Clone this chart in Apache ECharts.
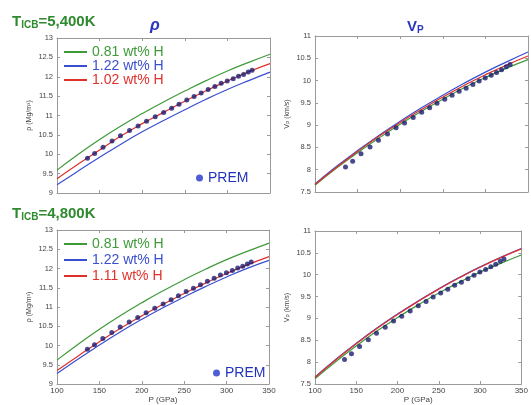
<!DOCTYPE html>
<html>
<head>
<meta charset="utf-8">
<script src="https://cdn.jsdelivr.net/npm/echarts@6/dist/echarts.min.js"></script>
<style>
html, body { margin: 0; padding: 0; background: #fff; }
#chart { width: 531px; height: 405px; }
</style>
</head>
<body>
<div id="chart"></div>
<script>
// pressure grid of the model curves (GPa)
const pGrid = [100, 125, 150, 175, 200, 225, 250, 275, 300, 325, 350];

// density (Mg/m3), T_ICB = 5,400K
const rhoGreenHot = [9.59, 10.00, 10.38, 10.73, 11.05, 11.35, 11.63, 11.90, 12.15, 12.37, 12.58];
const rhoBlueHot  = [9.21, 9.57, 9.92, 10.26, 10.58, 10.87, 11.15, 11.42, 11.67, 11.90, 12.12];
const rhoRedHot   = [9.37, 9.75, 10.11, 10.47, 10.79, 11.08, 11.37, 11.64, 11.89, 12.13, 12.34];

// Vp (km/s), T_ICB = 5,400K
const vpGreenHot = [7.65, 8.03, 8.38, 8.71, 9.02, 9.31, 9.58, 9.84, 10.07, 10.28, 10.47];
const vpBlueHot  = [7.68, 8.07, 8.43, 8.77, 9.09, 9.39, 9.67, 9.94, 10.19, 10.42, 10.64];
const vpRedHot   = [7.67, 8.05, 8.41, 8.75, 9.06, 9.35, 9.63, 9.89, 10.13, 10.35, 10.55];

// density (Mg/m3), T_ICB = 4,800K
const rhoGreenCold = [9.62, 10.03, 10.42, 10.78, 11.11, 11.42, 11.71, 11.98, 12.23, 12.45, 12.66];
const rhoBlueCold  = [9.27, 9.65, 10.01, 10.36, 10.68, 10.98, 11.26, 11.53, 11.78, 12.01, 12.21];
const rhoRedCold   = [9.35, 9.73, 10.10, 10.45, 10.77, 11.07, 11.35, 11.62, 11.87, 12.10, 12.31];

// Vp (km/s), T_ICB = 4,800K
const vpGreenCold = [7.62, 8.01, 8.37, 8.71, 9.02, 9.31, 9.58, 9.83, 10.06, 10.26, 10.45];
const vpBlueCold  = [7.66, 8.06, 8.43, 8.78, 9.10, 9.40, 9.68, 9.94, 10.18, 10.40, 10.60];
const vpRedCold   = [7.65, 8.05, 8.42, 8.77, 9.09, 9.39, 9.67, 9.93, 10.17, 10.39, 10.59];

// PREM outer core
const premP   = [135.8, 144.2, 154.0, 164.6, 174.5, 185.1, 195.2, 205.1, 215.3, 225.2, 234.6, 243.2,
                 252.3, 260.9, 269.2, 277.4, 285.3, 292.7, 299.8, 306.8, 313.1, 319.0, 324.5, 329.0];
const premRho = [9.90, 10.02, 10.18, 10.34, 10.48, 10.61, 10.73, 10.85, 10.97, 11.08, 11.19, 11.29,
                 11.40, 11.49, 11.58, 11.67, 11.75, 11.83, 11.89, 11.95, 12.01, 12.06, 12.12, 12.17];
const premVp  = [8.06, 8.19, 8.36, 8.51, 8.66, 8.80, 8.94, 9.05, 9.17, 9.29, 9.39, 9.49,
                 9.58, 9.67, 9.76, 9.83, 9.91, 9.99, 10.06, 10.12, 10.18, 10.24, 10.31, 10.36];

const GREEN = '#3f9a3a';
const BLUE = '#3a4fd0';
const RED = '#e0302c';
const DOT = '#1c1c70';
const AXIS = '#9a9a9a';
const LABEL = '#444';

const pairs = (xs, ys) => xs.map((x, i) => [x, ys[i]]);

function xAxis(grid, bottomLabels) {
    return {
        type: 'value', gridIndex: grid, min: 100, max: 350, interval: 50,
        axisLine: { lineStyle: { color: AXIS } },
        axisTick: { inside: true, length: 3, lineStyle: { color: AXIS } },
        splitLine: { show: false },
        axisLabel: { show: bottomLabels, fontSize: 8, color: LABEL, margin: 3 },
        name: bottomLabels ? 'P (GPa)' : '',
        nameLocation: 'middle', nameGap: 12,
        nameTextStyle: { fontSize: 8, color: LABEL }
    };
}
function xAxisTop(grid) {
    return {
        type: 'value', gridIndex: grid, position: 'top', min: 100, max: 350, interval: 50,
        axisLine: { lineStyle: { color: AXIS } },
        axisTick: { inside: true, length: 3, lineStyle: { color: AXIS } },
        splitLine: { show: false }, axisLabel: { show: false }
    };
}
function yAxis(grid, min, max, name, gap) {
    return {
        type: 'value', gridIndex: grid, min: min, max: max, interval: 0.5,
        axisLine: { show: true, lineStyle: { color: AXIS } },
        axisTick: { show: true, inside: true, length: 3, lineStyle: { color: AXIS } },
        splitLine: { show: false },
        axisLabel: { fontSize: 7.5, color: LABEL, margin: 4 },
        name: name, nameLocation: 'middle', nameGap: gap,
        nameTextStyle: { fontSize: 7, color: LABEL, rich: { s: { fontSize: 5, color: LABEL, verticalAlign: 'bottom' } } }
    };
}
function yAxisRight(grid, min, max) {
    return {
        type: 'value', gridIndex: grid, position: 'right', min: min, max: max, interval: 0.5,
        axisLine: { show: true, lineStyle: { color: AXIS } },
        axisTick: { show: true, inside: true, length: 3, lineStyle: { color: AXIS } },
        splitLine: { show: false }, axisLabel: { show: false }
    };
}

function line(name, color, grid, ys) {
    return {
        name: name, type: 'line', xAxisIndex: grid, yAxisIndex: grid,
        data: pairs(pGrid, ys), smooth: true, symbol: 'none',
        lineStyle: { color: color, width: 1.2 }, itemStyle: { color: color }, z: 2
    };
}
function prem(grid, ys) {
    return {
        name: 'PREM', type: 'scatter', xAxisIndex: grid, yAxisIndex: grid,
        data: pairs(premP, ys), symbolSize: 5,
        itemStyle: { color: DOT }, z: 5
    };
}

const subRich = {
    a: { fontSize: 15, fontWeight: 'bold', color: '#2f8a2f' },
    b: { fontSize: 10, fontWeight: 'bold', color: '#2f8a2f', verticalAlign: 'bottom', padding: [6, 0, 0, 0] }
};

function legendLines(top, gap, items) {
    return {
        orient: 'vertical', left: 64, top: top, padding: 0, icon: 'rect',
        itemWidth: 23, itemHeight: 2, itemGap: gap,
        textStyle: { fontSize: 14, lineHeight: 14 },
        selectedMode: false,
        data: items.map(it => ({ name: it[0], itemStyle: { color: it[1] }, textStyle: { color: it[1] } }))
    };
}
function legendPrem(left, top) {
    return {
        left: left, top: top, padding: 0, icon: 'circle', itemWidth: 7, itemHeight: 7,
        selectedMode: false,
        textStyle: { fontSize: 14, color: '#2233bb' },
        data: [{ name: 'PREM', itemStyle: { color: '#2233cc' } }]
    };
}

const chart = echarts.init(document.getElementById('chart'));
chart.setOption({
    animation: false,
    textStyle: { fontFamily: 'Liberation Sans, Arial, sans-serif' },
    title: [
        { text: '{a|T}{b|ICB}{a|=5,400K}', left: 12, top: 14, padding: 0, textStyle: { rich: subRich } },
        { text: 'ρ', left: 150, top: 18, padding: 0, textStyle: { fontSize: 16, fontStyle: 'italic', fontWeight: 'bold', color: '#2a35c0' } },
        { text: '{a|V}{b|P}', left: 407, top: 19, padding: 0, textStyle: { rich: {
            a: { fontSize: 15, fontWeight: 'bold', color: '#2a35c0' },
            b: { fontSize: 10, fontWeight: 'bold', color: '#2a35c0', verticalAlign: 'bottom', padding: [6, 0, 0, 0] } } } },
        { text: '{a|T}{b|ICB}{a|=4,800K}', left: 12, top: 206, padding: 0, textStyle: { rich: subRich } }
    ],
    legend: [
        legendLines(45, 0, [['0.81 wt% H', GREEN], ['1.22 wt% H', BLUE], ['1.02 wt% H', RED]]),
        legendPrem(196, 171),
        legendLines(237, 2, [['0.81 wt% H', GREEN], ['1.22 wt% H', BLUE], ['1.11 wt% H', RED]]),
        legendPrem(213, 366)
    ],
    grid: [
        { left: 57, top: 38, width: 213, height: 155 },
        { left: 315, top: 36, width: 213, height: 156 },
        { left: 57, top: 230, width: 212, height: 154 },
        { left: 315, top: 231, width: 212, height: 153 }
    ],
    xAxis: [
        xAxis(0, false), xAxis(1, false), xAxis(2, true), xAxis(3, true),
        xAxisTop(0), xAxisTop(1), xAxisTop(2), xAxisTop(3)
    ],
    yAxis: [
        yAxis(0, 9, 13, 'ρ (Mg/m³)', 24),
        yAxis(1, 7.5, 11, 'V{s|P} (km/s)', 24),
        yAxis(2, 9, 13, 'ρ (Mg/m³)', 24),
        yAxis(3, 7.5, 11, 'V{s|P} (km/s)', 24),
        yAxisRight(0, 9, 13), yAxisRight(1, 7.5, 11), yAxisRight(2, 9, 13), yAxisRight(3, 7.5, 11)
    ],
    series: [
        line('0.81 wt% H', GREEN, 0, rhoGreenHot),
        line('1.22 wt% H', BLUE, 0, rhoBlueHot),
        line('1.02 wt% H', RED, 0, rhoRedHot),
        prem(0, premRho),
        line('0.81 wt% H', GREEN, 1, vpGreenHot),
        line('1.22 wt% H', BLUE, 1, vpBlueHot),
        line('1.02 wt% H', RED, 1, vpRedHot),
        prem(1, premVp),
        line('0.81 wt% H', GREEN, 2, rhoGreenCold),
        line('1.22 wt% H', BLUE, 2, rhoBlueCold),
        line('1.11 wt% H', RED, 2, rhoRedCold),
        prem(2, premRho),
        line('0.81 wt% H', GREEN, 3, vpGreenCold),
        line('1.22 wt% H', BLUE, 3, vpBlueCold),
        line('1.11 wt% H', RED, 3, vpRedCold),
        prem(3, premVp)
    ]
});
</script>
</body>
</html>
